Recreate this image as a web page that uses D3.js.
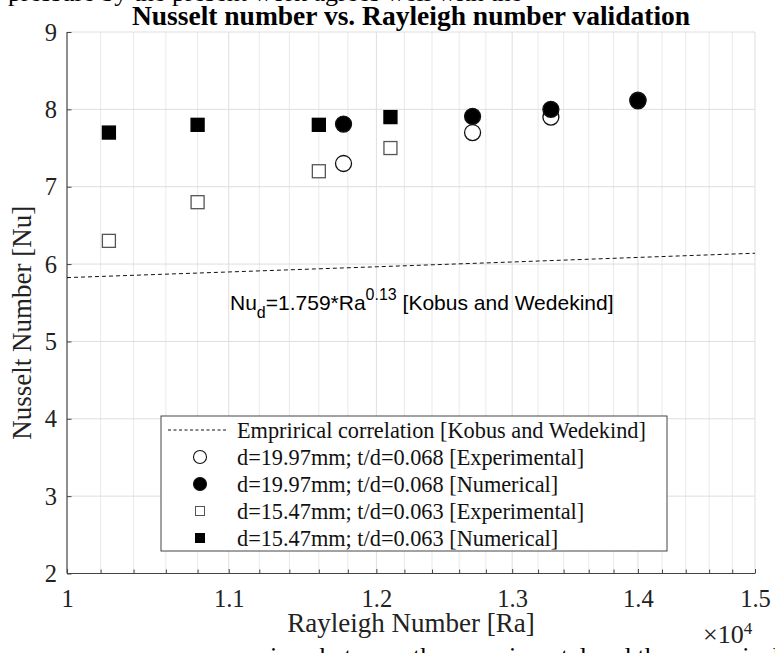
<!DOCTYPE html>
<html>
<head>
<meta charset="utf-8">
<script src="https://d3js.org/d3.v7.min.js"></script>
<style>
  body { margin: 0; background: #fff; }
  svg { display: block; }
</style>
</head>
<body>
<div id="chart"></div>
<script>
// Data (Ra in units of 1e4, x axis is logarithmic)
const raLarge = [1.177, 1.27, 1.33, 1.40];        // d=19.97mm
const nuLargeExp = [7.30, 7.70, 7.90, 8.12];
const nuLargeNum = [7.81, 7.91, 8.00, 8.11];
const raSmall = [1.025, 1.08, 1.16, 1.21];        // d=15.47mm
const nuSmallExp = [6.30, 6.80, 7.20, 7.50];
const nuSmallNum = [7.70, 7.80, 7.80, 7.90];
const raCorr = [1.0, 1.1, 1.2, 1.3, 1.4, 1.5];    // empirical correlation line
const nuCorr = [5.825, 5.898, 5.965, 6.027, 6.086, 6.140];
const xTicks = [1, 1.1, 1.2, 1.3, 1.4, 1.5];
const yTicks = [2, 3, 4, 5, 6, 7, 8, 9];
const legendLabels = [
  'Emprirical correlation [Kobus and Wedekind]',
  'd=19.97mm; t/d=0.068 [Experimental]',
  'd=19.97mm; t/d=0.068 [Numerical]',
  'd=15.47mm; t/d=0.063 [Experimental]',
  'd=15.47mm; t/d=0.063 [Numerical]'
];

const W = 775, H = 653;
const m = { left: 67, right: 20, top: 32, bottom: 79.5 };
const serif = 'Liberation Serif, Times New Roman, serif';
const sans = 'Liberation Sans, Arial, sans-serif';

const svg = d3.select('#chart').append('svg')
  .attr('width', W).attr('height', H);

const x = d3.scaleLog().domain([1, 1.5]).range([m.left, W - m.right]);
const y = d3.scaleLinear().domain([2, 9]).range([H - m.bottom, m.top]);
const x0 = x.range()[0], x1 = x.range()[1], y0 = y.range()[0], y1 = y.range()[1];

// cut-off text of the surrounding document
svg.append('text').attr('x', 8).attr('y', 0.5)
  .attr('font-family', serif).attr('font-size', 26).attr('fill', '#000')
  .text('pressure by the present work agrees well with the');
svg.append('text').attr('x', 192).attr('y', 665)
  .attr('font-family', serif).attr('font-size', 26).attr('fill', '#000')
  .text('comparison between the experimental and the numerical data');

// grid
const minor = d3.range(1, 1.5001, 0.02).map(v => Math.round(v * 100) / 100)
  .filter(v => Math.round(v * 100) % 10 !== 0);
svg.append('g').selectAll('line').data(minor).enter().append('line')
  .attr('x1', d => x(d)).attr('x2', d => x(d)).attr('y1', y0).attr('y2', y1)
  .attr('stroke', '#d2d2d2').attr('stroke-width', 1).attr('stroke-dasharray', '1,1');
svg.append('g').selectAll('line').data(xTicks.slice(1)).enter().append('line')
  .attr('x1', d => x(d)).attr('x2', d => x(d)).attr('y1', y0).attr('y2', y1)
  .attr('stroke', '#dedede').attr('stroke-width', 1);
svg.append('g').selectAll('line').data(yTicks.slice(1)).enter().append('line')
  .attr('x1', x0).attr('x2', x1).attr('y1', d => y(d)).attr('y2', d => y(d))
  .attr('stroke', '#dedede').attr('stroke-width', 1);

// axes
const xAxis = svg.append('g').attr('transform', `translate(0,${y0})`)
  .call(d3.axisBottom(x).tickValues(xTicks).tickSize(-4.5).tickFormat(d3.format('')));
const xMinorAxis = svg.append('g').attr('transform', `translate(0,${y0})`)
  .call(d3.axisBottom(x).tickValues(minor).tickSize(-4).tickFormat(''));
xMinorAxis.select('.domain').remove();
const yAxis = svg.append('g').attr('transform', `translate(${x0},0)`)
  .call(d3.axisLeft(y).tickValues(yTicks).tickSize(-4.5).tickFormat(d3.format('d')));
[xAxis, yAxis, xMinorAxis].forEach(a => {
  a.select('.domain').attr('stroke', '#444').attr('stroke-width', 1.2);
  a.selectAll('.tick line').attr('stroke', '#444');
  a.selectAll('.tick text').attr('font-family', serif).attr('font-size', 24.5).attr('fill', '#222');
});
xAxis.select('.domain').attr('d', `M${x0},0H${x1}`);
yAxis.select('.domain').attr('d', `M0,${y0}V${y1}`);
xAxis.selectAll('.tick text').attr('y', 33).attr('dy', null);
yAxis.selectAll('.tick text').attr('x', -10).attr('dy', '0.33em');

// correlation line
const line = d3.line().x((d, i) => x(raCorr[i])).y(d => y(d));
svg.append('path').datum(nuCorr).attr('d', line)
  .attr('fill', 'none').attr('stroke', '#111').attr('stroke-width', 1)
  .attr('stroke-dasharray', '4,3');

// markers
function squares(xs, ys, filled) {
  svg.append('g').selectAll('rect').data(ys).enter().append('rect')
    .attr('x', (d, i) => x(xs[i]) - 6.5).attr('y', d => y(d) - 6.5)
    .attr('width', 13).attr('height', 13)
    .attr('fill', filled ? '#000' : '#fff')
    .attr('stroke', filled ? '#000' : '#555').attr('stroke-width', 1.3);
}
function circles(xs, ys, filled) {
  svg.append('g').selectAll('circle').data(ys).enter().append('circle')
    .attr('cx', (d, i) => x(xs[i])).attr('cy', d => y(d)).attr('r', 8)
    .attr('fill', filled ? '#000' : '#fff')
    .attr('stroke', '#111').attr('stroke-width', 1.3);
}
circles(raLarge, nuLargeExp, false);
circles(raLarge, nuLargeNum, true);
squares(raSmall, nuSmallExp, false);
squares(raSmall, nuSmallNum, true);

// annotation
const ann = svg.append('text').attr('x', 230).attr('y', 310)
  .attr('font-family', sans).attr('font-size', 21).attr('fill', '#000');
ann.append('tspan').text('Nu');
ann.append('tspan').attr('dy', 8).attr('font-size', 16).text('d');
ann.append('tspan').attr('dy', -8).text('=1.759*Ra');
ann.append('tspan').attr('dy', -10).attr('font-size', 16).text('0.13');
ann.append('tspan').attr('dy', 10).text(' [Kobus and Wedekind]');

// legend
const lg = svg.append('g').attr('transform', 'translate(161,416)');
lg.append('rect').attr('width', 506).attr('height', 135)
  .attr('fill', '#fff').attr('stroke', '#444').attr('stroke-width', 1);
legendLabels.forEach((txt, i) => {
  const cy = 14 + i * 27;
  const row = lg.append('g').attr('transform', `translate(0,${cy})`);
  if (i === 0) {
    row.append('line').attr('x1', 7).attr('x2', 67).attr('y1', 0).attr('y2', 0)
      .attr('stroke', '#111').attr('stroke-dasharray', '3,2.5');
  } else if (i <= 2) {
    row.append('circle').attr('cx', 39).attr('cy', 0).attr('r', 6.5)
      .attr('fill', i === 2 ? '#000' : '#fff').attr('stroke', '#111').attr('stroke-width', 1.1);
  } else if (i === 3) {
    row.append('rect').attr('x', 34.5).attr('y', -4.5).attr('width', 9).attr('height', 9)
      .attr('fill', '#fff').attr('stroke', '#555');
  } else {
    row.append('rect').attr('x', 34).attr('y', -5).attr('width', 10).attr('height', 10)
      .attr('fill', '#000');
  }
  row.append('text').attr('x', 76).attr('y', 7.5)
    .attr('font-family', serif).attr('font-size', 22.3).attr('fill', '#111').text(txt);
});

// title and axis labels
svg.append('text').attr('x', (x0 + x1) / 2).attr('y', 25).attr('text-anchor', 'middle')
  .attr('font-family', serif).attr('font-size', 27.5).attr('font-weight', 'bold').attr('fill', '#000')
  .text('Nusselt number vs. Rayleigh number validation');
svg.append('text').attr('x', (x0 + x1) / 2).attr('y', 632).attr('text-anchor', 'middle')
  .attr('font-family', serif).attr('font-size', 27).attr('fill', '#222')
  .text('Rayleigh Number [Ra]');
svg.append('text').attr('transform', `translate(31,${(y0 + y1) / 2 + 20}) rotate(-90)`)
  .attr('text-anchor', 'middle')
  .attr('font-family', serif).attr('font-size', 27).attr('fill', '#222')
  .text('Nusselt Number [Nu]');
const exp = svg.append('text').attr('x', 703).attr('y', 643)
  .attr('font-family', serif).attr('font-size', 26).attr('fill', '#222');
exp.append('tspan').text('\u00d710');
exp.append('tspan').attr('dy', -9).attr('font-size', 17).text('4');
</script>
</body>
</html>
